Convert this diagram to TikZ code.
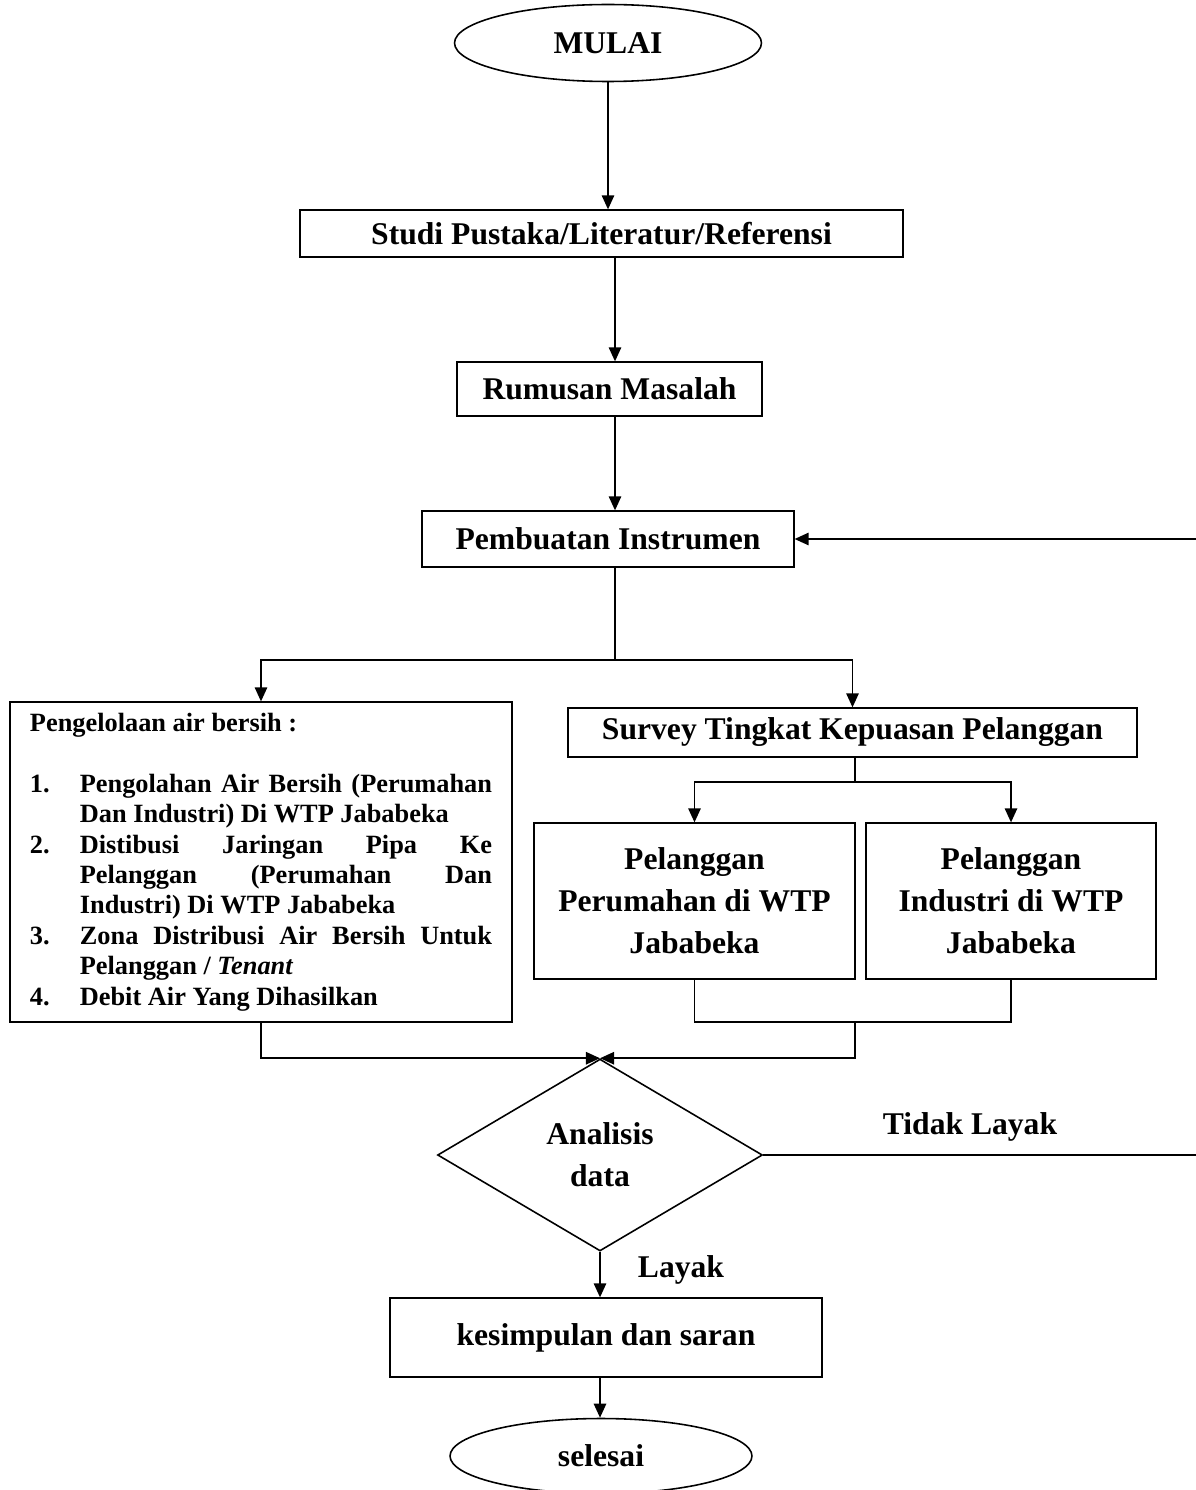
\documentclass[tikz,border=0pt]{standalone}
\usepackage{fontspec}
\setmainfont{Liberation Serif}
\usepackage{enumitem}
\usetikzlibrary{shapes.geometric,arrows.meta,positioning,calc}

\begin{document}
\begin{tikzpicture}[x=0.02cm, y=-0.02cm,
        box/.style={rectangle, draw, line width=0.7pt, align=center, inner sep=0pt, font=\bfseries\fontsize{18}{24}\selectfont},
        oval/.style={ellipse, draw, line width=0.9pt, inner sep=0pt, font=\bfseries\fontsize{18}{24}\selectfont},
        decision/.style={diamond, draw, line width=0.9pt, inner sep=0pt, align=center, minimum width=6.5cm, minimum height=3.84cm, font=\bfseries\fontsize{18}{24}\selectfont},
        listbox/.style={rectangle, draw, line width=0.7pt, text width=263pt, align=justify, inner xsep=11.3pt, inner ysep=0pt, minimum height=6.4cm, font=\bfseries\fontsize{15}{17.3}\selectfont},
        lbl/.style={font=\bfseries\fontsize{18}{24}\selectfont},
        line/.style={line width=1.1pt},
        arrow/.style={line, -{Triangle[length=8pt,width=7pt]}}]

        \useasboundingbox (0,0) rectangle (1196,1490);

        \node[oval, minimum width=6.14cm, minimum height=1.54cm] (mulai) at (608,43) {MULAI};
        \node[box, minimum width=12.06cm, minimum height=0.94cm] (studi) at (601.5,233.5) {Studi Pustaka/Literatur/Referensi};
        \node[box, minimum width=6.1cm, minimum height=1.08cm] (rumusan) at (609.5,389) {Rumusan Masalah};
        \node[box, minimum width=7.44cm, minimum height=1.12cm] (pembuatan) at (608,539) {Pembuatan Instrumen};
        \node[listbox] (kelola) at (261,862) {\hyphenpenalty=10000 \spaceskip=0.25em plus 1em\relax Pengelolaan air bersih :\par\vspace{17.3pt}
            \begin{enumerate}[label=\arabic*., leftmargin=28.4pt, labelindent=0pt, labelwidth=20pt, labelsep=8.4pt, align=left, itemsep=0pt, topsep=0pt, partopsep=0pt, parsep=0pt]
                \item Pengolahan Air Bersih (Perumahan Dan Industri) Di WTP Jababeka
                \item Distibusi Jaringan Pipa Ke Pelanggan (Perumahan Dan Industri) Di WTP Jababeka
                \item Zona Distribusi Air Bersih Untuk Pelanggan / \textit{Tenant}
                \item Debit Air Yang Dihasilkan
            \end{enumerate}};
        \node[box, minimum width=11.38cm, minimum height=0.98cm] (survey) at (852.5,732.5) {Survey Tingkat Kepuasan Pelanggan};
        \node[box, minimum width=6.42cm, minimum height=3.12cm] (perumahan) at (694.5,901) {Pelanggan\\Perumahan di WTP\\Jababeka};
        \node[box, minimum width=5.8cm, minimum height=3.12cm] (industri) at (1011,901) {Pelanggan\\Industri di WTP\\Jababeka};
        \node[decision] (analisis) at (600,1155) {Analisis\\data};
        \node[box, minimum width=8.64cm, minimum height=1.58cm] (kesimpulan) at (606,1337.5) {kesimpulan dan saran};
        \node[oval, minimum width=6.04cm, minimum height=1.5cm] (selesai) at (601,1456) {selesai};

        \coordinate (split) at (615,660);
        \coordinate (split2) at (855,782);
        \coordinate (join) at (855,1022);
        \coordinate (back) at (1200,1158);

        \draw[arrow] (mulai.south) -- (studi.north -| mulai.south);
        \draw[arrow] (studi.south -| split) -- (rumusan.north -| split);
        \draw[arrow] (rumusan.south -| split) -- (pembuatan.north -| split);
        \draw[line] (pembuatan.south -| split) -- (split);
        \draw[arrow] (split) -| (kelola.north);
        \draw[arrow] (split) -| (survey.north);
        \draw[line] (survey.south -| split2) -- (split2);
        \draw[arrow] (split2) -| (perumahan.north);
        \draw[arrow] (split2) -| (industri.north);
        \draw[line] (perumahan.south) |- (join) -| (industri.south);
        \draw[arrow] (join) |- (analisis.north);
        \draw[arrow] (kelola.south) |- (analisis.north);
        \draw[arrow] (analisis.east) -- (analisis.east -| back) |- (pembuatan.east);
        \node[lbl] (tidak) at (970,1127) {Tidak Layak};
        \draw[arrow] (analisis.south) -- (analisis.south |- kesimpulan.north);
        \node[lbl] (layak) at (681,1270) {Layak};
        \draw[arrow] (kesimpulan.south -| analisis.south) -- (selesai.north -| analisis.south);

    \end{tikzpicture}
\end{document}
